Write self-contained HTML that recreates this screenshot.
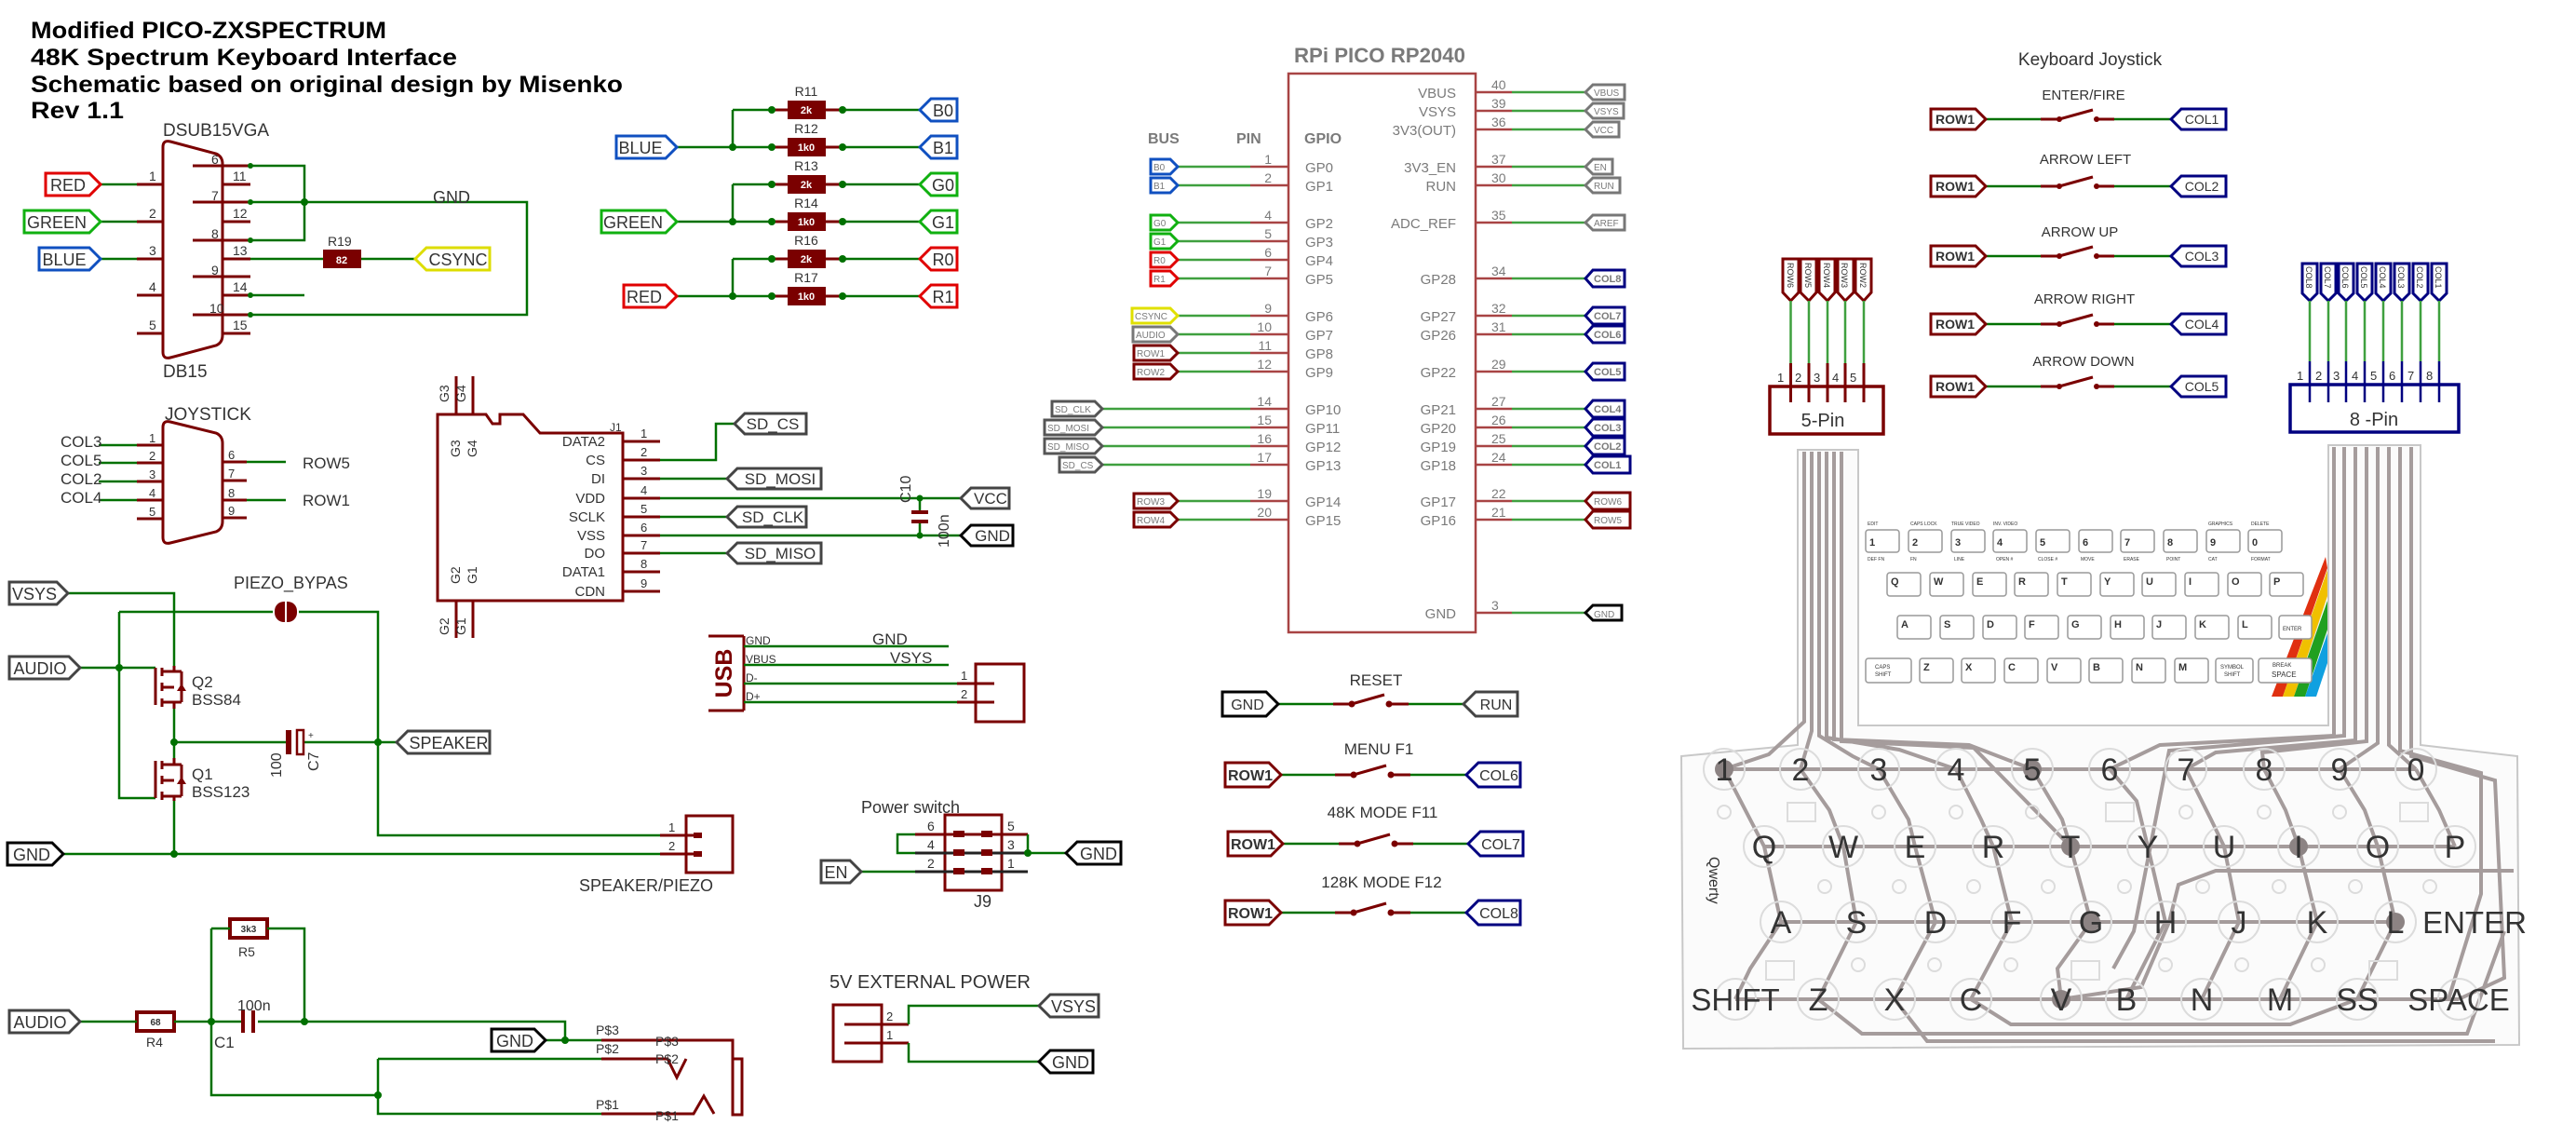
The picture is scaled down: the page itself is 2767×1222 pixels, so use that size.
<!DOCTYPE html>
<html><head><meta charset="utf-8"><style>
html,body{margin:0;padding:0;background:#fff}
svg{display:block}
.g{stroke:#007000;stroke-width:2.5;fill:none}
.pg{stroke:#3fa03f;stroke-width:2.5;fill:none}
.p{stroke:#7a0000;stroke-width:3;fill:none}
.pp{stroke:#a84444;stroke-width:2.5;fill:none}
.t{font-family:"Liberation Sans Narrow","Liberation Sans",sans-serif;fill:#333}
.s{font-family:"Liberation Sans",sans-serif;fill:#333}
.gy{font-family:"Liberation Sans",sans-serif;fill:#7a7a7a}
.j{fill:#007000}
.tr{stroke:#a59c9c;stroke-width:4;fill:none}
.k{fill:#fff;stroke:#999;stroke-width:1.5}
</style></head><body>
<svg width="2767" height="1222" viewBox="0 0 2767 1222" xmlns="http://www.w3.org/2000/svg">
<!-- TITLE -->
<g font-family="Liberation Sans Narrow,Liberation Sans,sans-serif" font-weight="bold" font-size="25" fill="#000">
<text x="33" y="41" textLength="382" lengthAdjust="spacingAndGlyphs">Modified PICO-ZXSPECTRUM</text>
<text x="33" y="70" textLength="458" lengthAdjust="spacingAndGlyphs">48K Spectrum Keyboard Interface</text>
<text x="33" y="99" textLength="636" lengthAdjust="spacingAndGlyphs">Schematic based on original design by Misenko</text>
<text x="33" y="127" textLength="100" lengthAdjust="spacingAndGlyphs">Rev 1.1</text>
</g>

<!-- VGA -->
<text class="t" x="175" y="146" font-size="19">DSUB15VGA</text>
<text class="t" x="175" y="405" font-size="19">DB15</text>
<path class="p" d="M183,152 L232,165 Q239,168 239,176 L239,360 Q239,368 232,371 L183,384 Q175,386 175,378 L175,158 Q175,150 183,152 Z"/>
<path class="p" d="M147,198H175M147,238H175M147,278H175M147,317H175M147,358H175M239,198H269M239,238H269M239,278H269M239,317H269M239,358H269M207,178H269M207,217H269M207,258H269M207,297H269M207,338H269"/>
<g class="t" font-size="14"><text x="160" y="194">1</text><text x="160" y="234">2</text><text x="160" y="274">3</text><text x="160" y="313">4</text><text x="160" y="354">5</text>
<text x="227" y="176">6</text><text x="227" y="215">7</text><text x="227" y="256">8</text><text x="227" y="295">9</text><text x="225" y="336">10</text>
<text x="250" y="194">11</text><text x="250" y="234">12</text><text x="250" y="274">13</text><text x="250" y="313">14</text><text x="250" y="354">15</text></g>
<path class="g" d="M269,178H327V258H269M269,217H566V338H269M269,317H327M269,278H347M388,278H446M108,198H147M108,238H147M108,278H147"/>
<circle class="j" cx="327" cy="217" r="4"/><circle class="j" cx="269" cy="178" r="3"/><circle class="j" cx="269" cy="217" r="3"/><circle class="j" cx="269" cy="258" r="3"/><circle class="j" cx="269" cy="317" r="3"/><circle class="j" cx="269" cy="338" r="3"/>
<text class="t" x="485" y="218" font-size="18" text-anchor="middle">GND</text>
<rect x="347" y="268" width="41" height="20" fill="#7a0000"/><text x="367" y="283" font-size="11" fill="#fff" text-anchor="middle" font-family="Liberation Sans" font-weight="bold">82</text>
<text class="t" x="352" y="264" font-size="14">R19</text>
<polygon points="446,278 458,266 526,266 526,290 458,290" fill="#fff" stroke="#dddd00" stroke-width="3"/><text class="t" x="492" y="285" font-size="18" text-anchor="middle">CSYNC</text>
<polygon points="49,186 96,186 108,198 96,210 49,210" fill="#fff" stroke="#e00000" stroke-width="3"/><text class="t" x="73" y="205" font-size="18" text-anchor="middle">RED</text>
<polygon points="26,226 96,226 108,238 96,250 26,250" fill="#fff" stroke="#10b010" stroke-width="3"/><text class="t" x="61" y="245" font-size="18" text-anchor="middle">GREEN</text>
<polygon points="42,266 96,266 108,278 96,290 42,290" fill="#fff" stroke="#1050c0" stroke-width="3"/><text class="t" x="69" y="285" font-size="18" text-anchor="middle">BLUE</text>

<!-- RESISTOR BANK -->
<path class="g" d="M787,118V158M787,198V238M787,278V318M727,158H829M727,238H829M727,318H829M787,118H829M787,198H829M787,278H829M905,118H988M905,158H988M905,198H988M905,238H988M905,278H988M905,318H988"/>
<path class="p" d="M829,118H905M829,158H905M829,198H905M829,238H905M829,278H905M829,318H905"/>
<g fill="#7a0000"><rect x="846" y="108" width="41" height="20"/><rect x="846" y="148" width="41" height="20"/><rect x="846" y="188" width="41" height="20"/><rect x="846" y="228" width="41" height="20"/><rect x="846" y="268" width="41" height="20"/><rect x="846" y="308" width="41" height="20"/></g>
<g font-size="11" fill="#fff" text-anchor="middle" font-family="Liberation Sans" font-weight="bold"><text x="866" y="122">2k</text><text x="866" y="162">1k0</text><text x="866" y="202">2k</text><text x="866" y="242">1k0</text><text x="866" y="282">2k</text><text x="866" y="322">1k0</text></g>
<g class="t" font-size="14" text-anchor="middle"><text x="866" y="103">R11</text><text x="866" y="143">R12</text><text x="866" y="183">R13</text><text x="866" y="223">R14</text><text x="866" y="263">R16</text><text x="866" y="303">R17</text></g>
<g class="j"><circle cx="787" cy="158" r="4"/><circle cx="787" cy="238" r="4"/><circle cx="787" cy="318" r="4"/><circle cx="829" cy="118" r="4"/><circle cx="829" cy="158" r="4"/><circle cx="829" cy="198" r="4"/><circle cx="829" cy="238" r="4"/><circle cx="829" cy="278" r="4"/><circle cx="829" cy="318" r="4"/><circle cx="905" cy="118" r="4"/><circle cx="905" cy="158" r="4"/><circle cx="905" cy="198" r="4"/><circle cx="905" cy="238" r="4"/><circle cx="905" cy="278" r="4"/><circle cx="905" cy="318" r="4"/></g>
<polygon points="662,146 715,146 727,158 715,170 662,170" fill="#fff" stroke="#1050c0" stroke-width="3"/><text class="t" x="688" y="165" font-size="18" text-anchor="middle">BLUE</text>
<polygon points="646,226 715,226 727,238 715,250 646,250" fill="#fff" stroke="#10b010" stroke-width="3"/><text class="t" x="680" y="245" font-size="18" text-anchor="middle">GREEN</text>
<polygon points="670,306 715,306 727,318 715,330 670,330" fill="#fff" stroke="#e00000" stroke-width="3"/><text class="t" x="692" y="325" font-size="18" text-anchor="middle">RED</text>
<g stroke-width="3" fill="#fff">
<polygon points="988,118 1000,106 1028,106 1028,130 1000,130" stroke="#1050c0"/><polygon points="988,158 1000,146 1028,146 1028,170 1000,170" stroke="#1050c0"/>
<polygon points="988,198 1000,186 1028,186 1028,210 1000,210" stroke="#10b010"/><polygon points="988,238 1000,226 1028,226 1028,250 1000,250" stroke="#10b010"/>
<polygon points="988,278 1000,266 1028,266 1028,290 1000,290" stroke="#e00000"/><polygon points="988,318 1000,306 1028,306 1028,330 1000,330" stroke="#e00000"/></g>
<g class="t" font-size="18" text-anchor="middle"><text x="1013" y="125">B0</text><text x="1013" y="165">B1</text><text x="1013" y="205">G0</text><text x="1013" y="245">G1</text><text x="1013" y="285">R0</text><text x="1013" y="325">R1</text></g>

<!-- JOYSTICK -->
<text class="t" x="177" y="451" font-size="19">JOYSTICK</text>
<path class="p" d="M183,453 L232,465 Q239,468 239,476 L239,560 Q239,568 232,571 L183,583 Q175,585 175,577 L175,459 Q175,451 183,453 Z"/>
<path class="p" d="M147,478H175M147,497H175M147,517H175M147,537H175M147,557H175M239,496H265M239,516H265M239,537H265M239,556H265"/>
<path class="g" d="M106,478H147M106,497H147M106,517H147M106,537H147M265,496H307M265,537H307"/>
<g class="t" font-size="17"><text x="65" y="480">COL3</text><text x="65" y="500">COL5</text><text x="65" y="520">COL2</text><text x="65" y="540">COL4</text><text x="325" y="503">ROW5</text><text x="325" y="543">ROW1</text></g>
<g class="t" font-size="13"><text x="160" y="475">1</text><text x="160" y="494">2</text><text x="160" y="514">3</text><text x="160" y="534">4</text><text x="160" y="554">5</text><text x="245" y="493">6</text><text x="245" y="513">7</text><text x="245" y="534">8</text><text x="245" y="553">9</text></g>

<!-- SD CARD -->
<path class="p" d="M470,645V445H522L529,455H537V445H562L580,465H669V645Z"/>
<path class="p" d="M490,445V404M508,445V404M490,645V685M508,645V685M669,474H709M669,494H709M669,514H709M669,535H709M669,555H709M669,575H709M669,594H709M669,614H709M669,635H709"/>
<g class="t" font-size="14"><text transform="translate(482,432) rotate(-90)">G3</text><text transform="translate(500,432) rotate(-90)">G4</text><text transform="translate(494,491) rotate(-90)">G3</text><text transform="translate(512,491) rotate(-90)">G4</text>
<text transform="translate(482,682) rotate(-90)">G2</text><text transform="translate(500,682) rotate(-90)">G1</text><text transform="translate(494,627) rotate(-90)">G2</text><text transform="translate(512,627) rotate(-90)">G1</text><text x="655" y="463" font-size="12">J1</text></g>
<g class="t" font-size="15" text-anchor="end"><text x="650" y="479">DATA2</text><text x="650" y="499">CS</text><text x="650" y="519">DI</text><text x="650" y="540">VDD</text><text x="650" y="560">SCLK</text><text x="650" y="580">VSS</text><text x="650" y="599">DO</text><text x="650" y="619">DATA1</text><text x="650" y="640">CDN</text></g>
<g class="t" font-size="13"><text x="688" y="470">1</text><text x="688" y="490">2</text><text x="688" y="510">3</text><text x="688" y="531">4</text><text x="688" y="551">5</text><text x="688" y="571">6</text><text x="688" y="590">7</text><text x="688" y="610">8</text><text x="688" y="631">9</text></g>
<path class="g" d="M709,494H769V455H789M709,514H781M709,535H1032M709,555H781M709,575H1032M709,594H781M988,535V550M988,561V575"/>
<rect x="979" y="548" width="18" height="4" fill="#7a0000"/><rect x="979" y="558" width="18" height="4" fill="#7a0000"/>
<circle class="j" cx="988" cy="535" r="3.5"/><circle class="j" cx="988" cy="575" r="3.5"/>
<text class="t" transform="translate(978,540) rotate(-90)" font-size="16">C10</text><text class="t" transform="translate(1019,588) rotate(-90)" font-size="16">100n</text>
<g fill="#fff" stroke="#444" stroke-width="3">
<polygon points="789,455 800,444 866,444 866,466 800,466"/><polygon points="781,514 792,503 882,503 882,525 792,525"/><polygon points="781,555 792,544 866,544 866,566 792,566"/><polygon points="781,594 792,583 882,583 882,605 792,605"/><polygon points="1032,535 1043,524 1084,524 1084,546 1043,546"/><polygon points="1032,575 1043,564 1088,564 1088,586 1043,586" stroke="#000"/></g>
<g class="t" font-size="17" text-anchor="middle"><text x="830" y="461">SD_CS</text><text x="838" y="520">SD_MOSI</text><text x="830" y="561">SD_CLK</text><text x="838" y="600">SD_MISO</text><text x="1064" y="541">VCC</text><text x="1066" y="581">GND</text></g>

<!-- PIEZO / AUDIO AMP -->
<text class="t" x="251" y="632" font-size="18">PIEZO_BYPAS</text>
<path class="g" d="M73,637H187V715M128,657H293M321,657H406V897H709M128,657V857H167M86,717H167M187,761V814M187,860V917M187,797H307M327,797H426M68,917H709"/>
<rect x="295" y="646" width="24" height="22" rx="10" fill="#7a0000"/><line x1="307" y1="646" x2="307" y2="668" stroke="#fff" stroke-width="2"/>
<g class="p" stroke-width="2.5"><path d="M167,717V757M174,717V726M174,733V742M174,750V759M174,721H187V715M174,754H187V761M174,738H187M195,721V754M187,721H195M187,754H195"/><path d="M167,857V817M174,817V826M174,833V842M174,850V859M174,821H187V814M174,855H187V860M174,838H187M195,821V855M187,821H195M187,855H195"/></g>
<polygon points="190,742 200,742 195,734" fill="#7a0000"/><polygon points="190,842 200,842 195,834" fill="#7a0000"/>
<g class="t" font-size="17"><text x="206" y="738">Q2</text><text x="206" y="757">BSS84</text><text x="206" y="837">Q1</text><text x="206" y="856">BSS123</text></g>
<rect x="307" y="784" width="6" height="26" fill="#7a0000"/><rect x="319" y="784" width="7" height="26" fill="none" stroke="#7a0000" stroke-width="2.5"/>
<text class="t" x="331" y="793" font-size="10">+</text>
<text class="t" transform="translate(302,835) rotate(-90)" font-size="16">100</text><text class="t" transform="translate(342,828) rotate(-90)" font-size="16">C7</text>
<g class="j"><circle cx="128" cy="717" r="4"/><circle cx="187" cy="797" r="4"/><circle cx="406" cy="797" r="4"/><circle cx="187" cy="917" r="4"/></g>
<polygon points="10,625 61,625 73,637 61,649 10,649" fill="#fff" stroke="#444" stroke-width="3"/><text class="t" x="37" y="644" font-size="18" text-anchor="middle">VSYS</text>
<polygon points="10,705 74,705 86,717 74,729 10,729" fill="#fff" stroke="#444" stroke-width="3"/><text class="t" x="43" y="724" font-size="18" text-anchor="middle">AUDIO</text>
<polygon points="426,797 438,785 526,785 526,809 438,809" fill="#fff" stroke="#444" stroke-width="3"/><text class="t" x="482" y="804" font-size="18" text-anchor="middle">SPEAKER</text>
<polygon points="8,905 56,905 68,917 56,929 8,929" fill="#fff" stroke="#000" stroke-width="3"/><text class="t" x="34" y="924" font-size="18" text-anchor="middle">GND</text>
<path class="p" d="M709,897H752M709,917H752"/><rect x="737" y="876" width="50" height="61" class="p"/>
<rect x="745" y="894" width="9" height="6" fill="#7a0000"/><rect x="745" y="914" width="9" height="6" fill="#7a0000"/>
<g class="t" font-size="13"><text x="718" y="893">1</text><text x="718" y="913">2</text></g>
<text class="t" x="622" y="957" font-size="18">SPEAKER/PIEZO</text>

<!-- USB -->
<path class="p" stroke-width="4" d="M799,683V763M761,683H799M761,763H799"/>
<text transform="translate(786,723) rotate(-90)" font-family="Liberation Sans" font-weight="bold" font-size="25" fill="#7a0000" text-anchor="middle">USB</text>
<g class="t" font-size="12"><text x="801" y="692">GND</text><text x="801" y="712">VBUS</text><text x="801" y="732">D-</text><text x="801" y="752">D+</text></g>
<path class="g" d="M799,694H1019M799,714H1019M799,734H1028M799,754H1028"/>
<path class="p" d="M1028,734H1068M1028,754H1068"/><rect x="1048" y="713" width="52" height="62" class="p"/>
<g class="t" font-size="17"><text x="937" y="692">GND</text><text x="956" y="712">VSYS</text></g>
<g class="t" font-size="13"><text x="1032" y="730">1</text><text x="1032" y="750">2</text></g>

<!-- POWER SWITCH -->
<text class="t" x="925" y="873" font-size="18">Power switch</text>
<rect x="1015" y="875" width="61" height="81" class="p"/>
<path class="p" d="M983,896H1104"/><path stroke="#222" stroke-width="3" d="M983,916H1104M983,936H1104"/>
<g fill="#7a0000"><rect x="1024" y="892" width="12" height="7"/><rect x="1054" y="892" width="12" height="7"/><rect x="1024" y="912" width="12" height="7"/><rect x="1054" y="912" width="12" height="7"/><rect x="1024" y="932" width="12" height="7"/><rect x="1054" y="932" width="12" height="7"/></g>
<path class="g" d="M983,896H964V916H983M1104,896V916H1145M925,936H983"/><circle class="j" cx="1104" cy="916" r="4"/>
<g class="t" font-size="14"><text x="996" y="892">6</text><text x="996" y="912">4</text><text x="996" y="932">2</text><text x="1082" y="892">5</text><text x="1082" y="912">3</text><text x="1082" y="932">1</text></g>
<text class="t" x="1046" y="974" font-size="18">J9</text>
<polygon points="1145,916 1157,904 1204,904 1204,928 1157,928" fill="#fff" stroke="#000" stroke-width="3"/><text class="t" x="1180" y="923" font-size="18" text-anchor="middle">GND</text>
<polygon points="882,924 913,924 925,936 913,948 882,948" fill="#fff" stroke="#444" stroke-width="3"/><text class="t" x="898" y="943" font-size="18" text-anchor="middle">EN</text>

<!-- AUDIO FILTER -->
<rect x="247" y="987" width="40" height="20" fill="#fff" stroke="#7a0000" stroke-width="4"/><text x="267" y="1001" font-size="10" text-anchor="middle" font-family="Liberation Sans" font-weight="bold" fill="#333">3k3</text>
<text class="t" x="265" y="1027" font-size="14" text-anchor="middle">R5</text>
<rect x="147" y="1087" width="40" height="20" fill="#fff" stroke="#7a0000" stroke-width="4"/><text x="167" y="1101" font-size="10" text-anchor="middle" font-family="Liberation Sans" font-weight="bold" fill="#333">68</text>
<text class="t" x="166" y="1124" font-size="14" text-anchor="middle">R4</text>
<path class="g" d="M227,997H247M287,997H327V1097M227,997V1176H406M86,1097H147M187,1097H259M277,1097H607V1117M586,1117H646M406,1137H646M406,1137V1196H646"/>
<rect x="259" y="1085" width="4" height="24" fill="#7a0000"/><rect x="270" y="1085" width="4" height="24" fill="#7a0000"/>
<text class="t" x="255" y="1085" font-size="16">100n</text><text class="t" x="230" y="1125" font-size="17">C1</text>
<g class="j"><circle cx="227" cy="1097" r="4"/><circle cx="327" cy="1097" r="4"/><circle cx="607" cy="1117" r="4"/><circle cx="406" cy="1176" r="4"/></g>
<path class="p" d="M646,1117H787V1197M646,1137H717L727,1157L737,1137M646,1196H745L756,1177L767,1196"/>
<rect x="787" y="1137" width="10" height="60" fill="none" stroke="#7a0000" stroke-width="3"/>
<g class="t" font-size="14"><text x="640" y="1111">P$3</text><text x="704" y="1123">P$3</text><text x="640" y="1131">P$2</text><text x="704" y="1142">P$2</text><text x="640" y="1191">P$1</text><text x="704" y="1203">P$1</text></g>
<polygon points="10,1085 74,1085 86,1097 74,1109 10,1109" fill="#fff" stroke="#444" stroke-width="3"/><text class="t" x="43" y="1104" font-size="18" text-anchor="middle">AUDIO</text>
<polygon points="528,1105 574,1105 586,1117 574,1129 528,1129" fill="#fff" stroke="#000" stroke-width="3"/><text class="t" x="553" y="1124" font-size="18" text-anchor="middle">GND</text>

<!-- 5V EXT -->
<text class="t" x="891" y="1061" font-size="20">5V EXTERNAL POWER</text>
<rect x="895" y="1079" width="52" height="61" class="p"/>
<path class="p" d="M907,1100H976M907,1120H976"/>
<g class="t" font-size="13"><text x="952" y="1096">2</text><text x="952" y="1116">1</text></g>
<path class="g" d="M976,1100V1080H1116M976,1120V1140H1116"/>
<polygon points="1116,1080 1128,1068 1180,1068 1180,1092 1128,1092" fill="#fff" stroke="#444" stroke-width="3"/><text class="t" x="1153" y="1087" font-size="18" text-anchor="middle">VSYS</text>
<polygon points="1116,1140 1128,1128 1174,1128 1174,1152 1128,1152" fill="#fff" stroke="#000" stroke-width="3"/><text class="t" x="1150" y="1147" font-size="18" text-anchor="middle">GND</text>

<!-- PICO -->
<text class="gy" x="1390" y="67" font-size="22" font-weight="bold" textLength="184" lengthAdjust="spacingAndGlyphs">RPi PICO RP2040</text>
<rect x="1384" y="79" width="201" height="600" class="pp" stroke-width="3"/>
<g class="gy" font-size="16" font-weight="bold"><text x="1233" y="154">BUS</text><text x="1328" y="154">PIN</text><text x="1401" y="154">GPIO</text></g>
<path class="pg" d="M1265,179H1343M1265,199H1343M1265,239H1343M1265,259H1343M1265,279H1343M1265,299H1343M1265,339H1343M1265,359H1343M1265,379H1343M1265,399H1343M1184,439H1343M1184,459H1343M1184,479H1343M1184,499H1343M1265,538H1343M1265,558H1343"/>
<path class="pp" d="M1343,179H1384M1343,199H1384M1343,239H1384M1343,259H1384M1343,279H1384M1343,299H1384M1343,339H1384M1343,359H1384M1343,379H1384M1343,399H1384M1343,439H1384M1343,459H1384M1343,479H1384M1343,499H1384M1343,538H1384M1343,558H1384"/>
<path class="pp" d="M1585,99H1624M1585,119H1624M1585,139H1624M1585,179H1624M1585,199H1624M1585,239H1624M1585,299H1624M1585,339H1624M1585,359H1624M1585,399H1624M1585,439H1624M1585,459H1624M1585,479H1624M1585,499H1624M1585,538H1624M1585,558H1624M1585,658H1624"/>
<path class="pg" d="M1624,99H1703M1624,119H1703M1624,139H1703M1624,179H1703M1624,199H1703M1624,239H1703M1624,299H1703M1624,339H1703M1624,359H1703M1624,399H1703M1624,439H1703M1624,459H1703M1624,479H1703M1624,499H1703M1624,538H1703M1624,558H1703M1624,658H1703"/>
<g class="gy" font-size="15"><text x="1402" y="185">GP0</text><text x="1402" y="205">GP1</text><text x="1402" y="245">GP2</text><text x="1402" y="265">GP3</text><text x="1402" y="285">GP4</text><text x="1402" y="305">GP5</text><text x="1402" y="345">GP6</text><text x="1402" y="365">GP7</text><text x="1402" y="385">GP8</text><text x="1402" y="405">GP9</text><text x="1402" y="445">GP10</text><text x="1402" y="465">GP11</text><text x="1402" y="485">GP12</text><text x="1402" y="505">GP13</text><text x="1402" y="544">GP14</text><text x="1402" y="564">GP15</text></g>
<g class="gy" font-size="15" text-anchor="end"><text x="1564" y="105">VBUS</text><text x="1564" y="125">VSYS</text><text x="1564" y="145">3V3(OUT)</text><text x="1564" y="185">3V3_EN</text><text x="1564" y="205">RUN</text><text x="1564" y="245">ADC_REF</text><text x="1564" y="305">GP28</text><text x="1564" y="345">GP27</text><text x="1564" y="365">GP26</text><text x="1564" y="405">GP22</text><text x="1564" y="445">GP21</text><text x="1564" y="465">GP20</text><text x="1564" y="485">GP19</text><text x="1564" y="505">GP18</text><text x="1564" y="544">GP17</text><text x="1564" y="564">GP16</text><text x="1564" y="664">GND</text></g>
<g class="gy" font-size="14" text-anchor="end"><text x="1366" y="176">1</text><text x="1366" y="196">2</text><text x="1366" y="236">4</text><text x="1366" y="256">5</text><text x="1366" y="276">6</text><text x="1366" y="296">7</text><text x="1366" y="336">9</text><text x="1366" y="356">10</text><text x="1366" y="376">11</text><text x="1366" y="396">12</text><text x="1366" y="436">14</text><text x="1366" y="456">15</text><text x="1366" y="476">16</text><text x="1366" y="496">17</text><text x="1366" y="535">19</text><text x="1366" y="555">20</text></g>
<g class="gy" font-size="14"><text x="1602" y="96">40</text><text x="1602" y="116">39</text><text x="1602" y="136">36</text><text x="1602" y="176">37</text><text x="1602" y="196">30</text><text x="1602" y="236">35</text><text x="1602" y="296">34</text><text x="1602" y="336">32</text><text x="1602" y="356">31</text><text x="1602" y="396">29</text><text x="1602" y="436">27</text><text x="1602" y="456">26</text><text x="1602" y="476">25</text><text x="1602" y="496">24</text><text x="1602" y="535">22</text><text x="1602" y="555">21</text><text x="1602" y="655">3</text></g>
<!-- pico left labels -->
<g fill="#fff" stroke-width="3">
<polygon points="1236,171 1257,171 1265,179 1257,187 1236,187" stroke="#1050c0"/><polygon points="1236,191 1257,191 1265,199 1257,207 1236,207" stroke="#1050c0"/>
<polygon points="1236,231 1257,231 1265,239 1257,247 1236,247" stroke="#10b010"/><polygon points="1236,251 1257,251 1265,259 1257,267 1236,267" stroke="#10b010"/>
<polygon points="1236,271 1257,271 1265,279 1257,287 1236,287" stroke="#e00000"/><polygon points="1236,291 1257,291 1265,299 1257,307 1236,307" stroke="#e00000"/>
<polygon points="1216,331 1257,331 1265,339 1257,347 1216,347" stroke="#e0e000"/><polygon points="1217,351 1257,351 1265,359 1257,367 1217,367" stroke="#777"/>
<polygon points="1218,371 1257,371 1265,379 1257,387 1218,387" stroke="#7a0000"/><polygon points="1218,391 1257,391 1265,399 1257,407 1218,407" stroke="#7a0000"/>
<polygon points="1130,431 1176,431 1184,439 1176,447 1130,447" stroke="#555"/><polygon points="1122,451 1176,451 1184,459 1176,467 1122,467" stroke="#555"/>
<polygon points="1122,471 1176,471 1184,479 1176,487 1122,487" stroke="#555"/><polygon points="1138,491 1176,491 1184,499 1176,507 1138,507" stroke="#555"/>
<polygon points="1218,530 1257,530 1265,538 1257,546 1218,546" stroke="#7a0000"/><polygon points="1218,550 1257,550 1265,558 1257,566 1218,566" stroke="#7a0000"/>
</g>
<g class="gy" font-size="10"><text x="1239" y="183">B0</text><text x="1239" y="203">B1</text><text x="1239" y="243">G0</text><text x="1239" y="263">G1</text><text x="1239" y="283">R0</text><text x="1239" y="303">R1</text><text x="1219" y="343">CSYNC</text><text x="1220" y="363">AUDIO</text><text x="1221" y="383">ROW1</text><text x="1221" y="403">ROW2</text><text x="1133" y="443">SD_CLK</text><text x="1125" y="463">SD_MOSI</text><text x="1125" y="483">SD_MISO</text><text x="1141" y="503">SD_CS</text><text x="1221" y="542">ROW3</text><text x="1221" y="562">ROW4</text></g>
<!-- pico right labels -->
<g fill="#fff" stroke-width="3">
<polygon points="1703,99 1711,91 1745,91 1745,107 1711,107" stroke="#777"/><polygon points="1703,119 1711,111 1744,111 1744,127 1711,127" stroke="#777"/><polygon points="1703,139 1711,131 1739,131 1739,147 1711,147" stroke="#777"/>
<polygon points="1703,179 1711,171 1732,171 1732,187 1711,187" stroke="#777"/><polygon points="1703,199 1711,191 1740,191 1740,207 1711,207" stroke="#777"/><polygon points="1703,239 1711,231 1745,231 1745,247 1711,247" stroke="#777"/>
<polygon points="1703,299 1711,290 1745,290 1745,308 1711,308" stroke="#000080"/><polygon points="1703,339 1711,330 1745,330 1745,348 1711,348" stroke="#000080"/><polygon points="1703,359 1711,350 1745,350 1745,368 1711,368" stroke="#000080"/>
<polygon points="1703,399 1711,390 1745,390 1745,408 1711,408" stroke="#000080"/><polygon points="1703,439 1711,430 1745,430 1745,448 1711,448" stroke="#000080"/><polygon points="1703,459 1711,450 1745,450 1745,468 1711,468" stroke="#000080"/>
<polygon points="1703,479 1711,470 1745,470 1745,488 1711,488" stroke="#000080"/><polygon points="1703,499 1711,490 1751,490 1751,508 1711,508" stroke="#000080"/>
<polygon points="1703,538 1711,529 1751,529 1751,547 1711,547" stroke="#7a0000"/><polygon points="1703,558 1711,549 1751,549 1751,567 1711,567" stroke="#7a0000"/>
<polygon points="1703,658 1711,650 1742,650 1742,666 1711,666" stroke="#000"/></g>
<g class="gy" font-size="10"><text x="1712" y="103">VBUS</text><text x="1712" y="123">VSYS</text><text x="1712" y="143">VCC</text><text x="1712" y="183">EN</text><text x="1712" y="203">RUN</text><text x="1712" y="243">AREF</text><text x="1712" y="663">GND</text><text x="1712" y="542">ROW6</text><text x="1712" y="562">ROW5</text></g>
<g class="gy" font-size="11" font-weight="bold"><text x="1712" y="303">COL8</text><text x="1712" y="343">COL7</text><text x="1712" y="363">COL6</text><text x="1712" y="403">COL5</text><text x="1712" y="443">COL4</text><text x="1712" y="463">COL3</text><text x="1712" y="483">COL2</text><text x="1712" y="503">COL1</text></g>

<!-- RESET / F-KEY SWITCHES -->
<g class="s" font-size="17" text-anchor="middle"><text x="1478" y="736">RESET</text><text x="1481" y="810">MENU F1</text><text x="1485" y="878">48K MODE F11</text><text x="1484" y="953">128K MODE F12</text></g>
<path class="g" d="M1373,756H1432M1513,756H1572M1376,832H1434M1515,832H1575M1378,906H1438M1518,906H1577M1376,980H1434M1515,980H1575"/>
<path class="p" d="M1432,756H1452L1487,746M1492,756H1513M1434,832H1454L1489,822M1494,832H1515M1438,906H1458L1493,896M1498,906H1518M1434,980H1454L1489,970M1494,980H1515"/>
<g fill="#7a0000"><circle cx="1452" cy="756" r="3.5"/><circle cx="1492" cy="756" r="3.5"/><circle cx="1454" cy="832" r="3.5"/><circle cx="1494" cy="832" r="3.5"/><circle cx="1458" cy="906" r="3.5"/><circle cx="1498" cy="906" r="3.5"/><circle cx="1454" cy="980" r="3.5"/><circle cx="1494" cy="980" r="3.5"/></g>
<g fill="#fff" stroke-width="3">
<polygon points="1313,743 1360,743 1373,756 1360,769 1313,769" stroke="#000"/><polygon points="1572,756 1585,743 1630,743 1630,769 1585,769" stroke="#444"/>
<polygon points="1316,819 1363,819 1376,832 1363,845 1316,845" stroke="#7a0000"/><polygon points="1575,832 1588,819 1633,819 1633,845 1588,845" stroke="#000080"/>
<polygon points="1319,893 1365,893 1378,906 1365,919 1319,919" stroke="#7a0000"/><polygon points="1577,906 1590,893 1636,893 1636,919 1590,919" stroke="#000080"/>
<polygon points="1316,967 1363,967 1376,980 1363,993 1316,993" stroke="#7a0000"/><polygon points="1575,980 1588,967 1633,967 1633,993 1588,993" stroke="#000080"/></g>
<g class="s" font-size="16" text-anchor="middle"><text x="1340" y="762">GND</text><text x="1607" y="762">RUN</text><text x="1343" y="838" font-weight="bold">ROW1</text><text x="1610" y="838">COL6</text><text x="1346" y="912" font-weight="bold">ROW1</text><text x="1612" y="912">COL7</text><text x="1343" y="986" font-weight="bold">ROW1</text><text x="1610" y="986">COL8</text></g>

<!-- KEYBOARD JOYSTICK -->
<text class="s" x="2245" y="70" font-size="19" text-anchor="middle">Keyboard Joystick</text>
<g class="s" font-size="15" text-anchor="middle"><text x="2238" y="107">ENTER/FIRE</text><text x="2240" y="176">ARROW LEFT</text><text x="2234" y="254">ARROW UP</text><text x="2239" y="326">ARROW RIGHT</text><text x="2238" y="393">ARROW DOWN</text></g>
<path class="g" d="M2133,128H2192M2271,128H2332M2133,200H2192M2271,200H2332M2133,275H2192M2271,275H2332M2133,348H2192M2271,348H2332M2133,415H2192M2271,415H2332"/>
<path class="p" stroke-width="2.5" d="M2192,128H2212L2248,118M2252,128H2271M2192,200H2212L2248,190M2252,200H2271M2192,275H2212L2248,265M2252,275H2271M2192,348H2212L2248,338M2252,348H2271M2192,415H2212L2248,405M2252,415H2271"/>
<g fill="#7a0000"><circle cx="2212" cy="128" r="3"/><circle cx="2252" cy="128" r="3"/><circle cx="2212" cy="200" r="3"/><circle cx="2252" cy="200" r="3"/><circle cx="2212" cy="275" r="3"/><circle cx="2252" cy="275" r="3"/><circle cx="2212" cy="348" r="3"/><circle cx="2252" cy="348" r="3"/><circle cx="2212" cy="415" r="3"/><circle cx="2252" cy="415" r="3"/></g>
<g fill="#fff" stroke-width="3">
<polygon points="2074,117 2122,117 2133,128 2122,139 2074,139" stroke="#7a0000"/><polygon points="2332,128 2343,117 2391,117 2391,139 2343,139" stroke="#000080"/>
<polygon points="2074,189 2122,189 2133,200 2122,211 2074,211" stroke="#7a0000"/><polygon points="2332,200 2343,189 2391,189 2391,211 2343,211" stroke="#000080"/>
<polygon points="2074,264 2122,264 2133,275 2122,286 2074,286" stroke="#7a0000"/><polygon points="2332,275 2343,264 2391,264 2391,286 2343,286" stroke="#000080"/>
<polygon points="2074,337 2122,337 2133,348 2122,359 2074,359" stroke="#7a0000"/><polygon points="2332,348 2343,337 2391,337 2391,359 2343,359" stroke="#000080"/>
<polygon points="2074,404 2122,404 2133,415 2122,426 2074,426" stroke="#7a0000"/><polygon points="2332,415 2343,404 2391,404 2391,426 2343,426" stroke="#000080"/></g>
<g class="s" font-size="14" text-anchor="middle"><text x="2100" y="133" font-weight="bold">ROW1</text><text x="2365" y="133">COL1</text><text x="2100" y="205" font-weight="bold">ROW1</text><text x="2365" y="205">COL2</text><text x="2100" y="280" font-weight="bold">ROW1</text><text x="2365" y="280">COL3</text><text x="2100" y="353" font-weight="bold">ROW1</text><text x="2365" y="353">COL4</text><text x="2100" y="420" font-weight="bold">ROW1</text><text x="2365" y="420">COL5</text></g>

<!-- 5-PIN -->
<g fill="#fff" stroke="#7a0000" stroke-width="3">
<polygon points="1915,278 1932,278 1932,314 1923.5,323 1915,314"/><polygon points="1934,278 1951,278 1951,314 1943,323 1934,314"/><polygon points="1954,278 1971,278 1971,314 1963,323 1954,314"/><polygon points="1974,278 1991,278 1991,314 1982,323 1974,314"/><polygon points="1993,278 2010,278 2010,314 2002,323 1993,314"/></g>
<g class="s" font-size="9"><text transform="translate(1920,282) rotate(90)">ROW6</text><text transform="translate(1939,282) rotate(90)">ROW5</text><text transform="translate(1959,282) rotate(90)">ROW4</text><text transform="translate(1978,282) rotate(90)">ROW3</text><text transform="translate(1998,282) rotate(90)">ROW2</text></g>
<path stroke="#3fa03f" stroke-width="2.5" d="M1923.5,323V390M1943,323V390M1963,323V390M1982,323V390M2002,323V390"/>
<path class="p" stroke-width="2.5" d="M1923.5,390V432M1943,390V432M1963,390V432M1982,390V432M2002,390V432"/>
<rect x="1901" y="415" width="122" height="51" fill="none" stroke="#7a0000" stroke-width="3.5"/>
<g class="s" font-size="13"><text x="1909" y="410">1</text><text x="1928" y="410">2</text><text x="1948" y="410">3</text><text x="1968" y="410">4</text><text x="1987" y="410">5</text></g>
<text class="s" x="1958" y="458" font-size="20" text-anchor="middle">5-Pin</text>
<!-- 8-PIN -->
<g fill="#fff" stroke="#000080" stroke-width="3">
<polygon points="2473,283 2489,283 2489,315 2481,323 2473,315"/><polygon points="2493,283 2509,283 2509,315 2501,323 2493,315"/><polygon points="2512,283 2528,283 2528,315 2520,323 2512,315"/><polygon points="2532,283 2548,283 2548,315 2540,323 2532,315"/><polygon points="2552,283 2568,283 2568,315 2560,323 2552,315"/><polygon points="2572,283 2588,283 2588,315 2580,323 2572,315"/><polygon points="2592,283 2608,283 2608,315 2600,323 2592,315"/><polygon points="2612,283 2628,283 2628,315 2620,323 2612,315"/></g>
<g class="s" font-size="9"><text transform="translate(2477,286) rotate(90)">COL8</text><text transform="translate(2497,286) rotate(90)">COL7</text><text transform="translate(2516,286) rotate(90)">COL6</text><text transform="translate(2536,286) rotate(90)">COL5</text><text transform="translate(2556,286) rotate(90)">COL4</text><text transform="translate(2576,286) rotate(90)">COL3</text><text transform="translate(2596,286) rotate(90)">COL2</text><text transform="translate(2616,286) rotate(90)">COL1</text></g>
<path stroke="#3fa03f" stroke-width="2.5" d="M2481,323V388M2501,323V388M2520,323V388M2540,323V388M2560,323V388M2580,323V388M2600,323V388M2620,323V388"/>
<path stroke="#000080" stroke-width="2.5" d="M2481,388V432M2501,388V432M2520,388V432M2540,388V432M2560,388V432M2580,388V432M2600,388V432M2620,388V432"/>
<rect x="2460" y="413" width="181" height="51" fill="none" stroke="#000080" stroke-width="3.5"/>
<g class="s" font-size="13"><text x="2467" y="408">1</text><text x="2487" y="408">2</text><text x="2506" y="408">3</text><text x="2526" y="408">4</text><text x="2546" y="408">5</text><text x="2566" y="408">6</text><text x="2586" y="408">7</text><text x="2606" y="408">8</text></g>
<text class="s" x="2550" y="457" font-size="20" text-anchor="middle">8 -Pin</text>

<!-- MEMBRANE -->
<polygon points="1806,812 1931,800 1931,483 1996,483 1996,779 2501,779 2501,478 2600,478 2600,800 2704,812 2706,1122 1808,1126" fill="#fbfbfb" stroke="#c8c8c8" stroke-width="2"/>
<rect x="2003" y="549" width="491" height="199" fill="#fff"/>
<g class="tr" stroke-width="3">
<path d="M1938,485V775L1900,810L1852,826M1946,485V785L1934,826M1954,485V790L1990,812L2018,826M1962,485V792L2040,805L2101,826M1970,485V794L2115,800L2183,826M1978,485V796L2120,803L2224,909"/>
<path d="M2507,480V790L2320,800L2266,826M2518,480V790L2330,806L2292,1000L2270,1040M2530,480V795L2380,808L2348,826M2542,480V796L2430,808L2432,826M2554,480V798L2513,826M2566,480V800L2595,826M2578,480V806L2665,830L2665,960L2630,1073M2590,480V812L2680,838L2690,1050L2641,1073"/>
<path d="M1852,826H2595M1895,909H2637M1913,990H2573M1864,1073H2641"/>
<path d="M1852,826L1895,909L1913,990L1880,1040L1864,1073M1934,826L1965,870L1980,909L1994,990L1953,1073M2018,826L2050,880L2057,909L2079,990L2035,1073M2101,826L2128,880L2141,909L2161,990L2117,1073M2183,826L2215,880L2224,909L2246,990L2210,1040L2214,1073M2266,826L2295,860L2307,909L2326,990L2284,1073M2348,826L2375,880L2389,909L2405,990L2365,1073M2432,826L2455,870L2469,909L2489,990L2449,1073M2513,826L2540,870L2554,909L2573,990L2532,1073M2595,826L2620,870L2637,909"/>
<path d="M2214,1073L2300,1060L2330,990L2340,950L2380,935L2700,935M1953,1073L2000,1110L2650,1110L2690,1000M2117,1073L2160,1100L2460,1100L2532,1073M2035,1073L2070,1118L2680,1118"/>
</g>
<g fill="none" stroke="#dcdcdc" stroke-width="2">
<circle cx="1852" cy="826" r="22"/><circle cx="1934" cy="826" r="22"/><circle cx="2018" cy="826" r="22"/><circle cx="2101" cy="826" r="22"/><circle cx="2183" cy="826" r="22"/><circle cx="2266" cy="826" r="22"/><circle cx="2348" cy="826" r="22"/><circle cx="2432" cy="826" r="22"/><circle cx="2513" cy="826" r="22"/><circle cx="2595" cy="826" r="22"/>
<circle cx="1895" cy="909" r="22"/><circle cx="1980" cy="909" r="22"/><circle cx="2057" cy="909" r="22"/><circle cx="2141" cy="909" r="22"/><circle cx="2224" cy="909" r="22"/><circle cx="2307" cy="909" r="22"/><circle cx="2389" cy="909" r="22"/><circle cx="2469" cy="909" r="22"/><circle cx="2554" cy="909" r="22"/><circle cx="2637" cy="909" r="22"/>
<circle cx="1913" cy="990" r="22"/><circle cx="1994" cy="990" r="22"/><circle cx="2079" cy="990" r="22"/><circle cx="2161" cy="990" r="22"/><circle cx="2246" cy="990" r="22"/><circle cx="2326" cy="990" r="22"/><circle cx="2405" cy="990" r="22"/><circle cx="2489" cy="990" r="22"/><circle cx="2573" cy="990" r="22"/>
<circle cx="1864" cy="1073" r="22"/><circle cx="1953" cy="1073" r="22"/><circle cx="2035" cy="1073" r="22"/><circle cx="2117" cy="1073" r="22"/><circle cx="2214" cy="1073" r="22"/><circle cx="2284" cy="1073" r="22"/><circle cx="2365" cy="1073" r="22"/><circle cx="2449" cy="1073" r="22"/><circle cx="2532" cy="1073" r="22"/><circle cx="2641" cy="1073" r="22"/>
<rect x="1920" y="862" width="30" height="20"/><rect x="2262" y="862" width="30" height="20"/><rect x="2578" y="862" width="30" height="20"/><rect x="1897" y="1032" width="30" height="20"/><rect x="2225" y="1032" width="30" height="20"/><rect x="2545" y="1032" width="30" height="20"/>
<circle cx="1852" cy="872" r="7"/><circle cx="2018" cy="872" r="7"/><circle cx="2101" cy="872" r="7"/><circle cx="2183" cy="872" r="7"/><circle cx="2348" cy="872" r="7"/><circle cx="2432" cy="872" r="7"/><circle cx="2513" cy="872" r="7"/>
<circle cx="1960" cy="952" r="7"/><circle cx="2040" cy="952" r="7"/><circle cx="2120" cy="952" r="7"/><circle cx="2200" cy="952" r="7"/><circle cx="2282" cy="952" r="7"/><circle cx="2366" cy="952" r="7"/><circle cx="2448" cy="952" r="7"/><circle cx="2530" cy="952" r="7"/><circle cx="2610" cy="952" r="7"/>
<circle cx="1996" cy="1036" r="7"/><circle cx="2078" cy="1036" r="7"/><circle cx="2160" cy="1036" r="7"/><circle cx="2326" cy="1036" r="7"/><circle cx="2408" cy="1036" r="7"/><circle cx="2490" cy="1036" r="7"/></g>
<g fill="#8c8383"><circle cx="1852" cy="826" r="10"/><circle cx="2183" cy="826" r="10"/><circle cx="2224" cy="909" r="10"/><circle cx="2469" cy="909" r="10"/><circle cx="2246" cy="990" r="10"/><circle cx="2573" cy="990" r="10"/><circle cx="2214" cy="1073" r="10"/></g>
<text transform="translate(1836,920) rotate(90)" class="s" font-size="16" fill="#777">Qwerty</text>
<g class="s" font-size="34" fill="#444" text-anchor="middle">
<text x="1852" y="838">1</text><text x="1934" y="838">2</text><text x="2018" y="838">3</text><text x="2101" y="838">4</text><text x="2183" y="838">5</text><text x="2266" y="838">6</text><text x="2348" y="838">7</text><text x="2432" y="838">8</text><text x="2513" y="838">9</text><text x="2595" y="838">0</text>
<text x="1895" y="921">Q</text><text x="1980" y="921">W</text><text x="2057" y="921">E</text><text x="2141" y="921">R</text><text x="2224" y="921">T</text><text x="2307" y="921">Y</text><text x="2389" y="921">U</text><text x="2469" y="921">I</text><text x="2554" y="921">O</text><text x="2637" y="921">P</text>
<text x="1913" y="1002">A</text><text x="1994" y="1002">S</text><text x="2079" y="1002">D</text><text x="2161" y="1002">F</text><text x="2246" y="1002">G</text><text x="2326" y="1002">H</text><text x="2405" y="1002">J</text><text x="2489" y="1002">K</text><text x="2573" y="1002">L</text><text x="2658" y="1002" font-size="33">ENTER</text>
<text x="1864" y="1085" font-size="33">SHIFT</text><text x="1953" y="1085">Z</text><text x="2035" y="1085">X</text><text x="2117" y="1085">C</text><text x="2214" y="1085">V</text><text x="2284" y="1085">B</text><text x="2365" y="1085">N</text><text x="2449" y="1085">M</text><text x="2532" y="1085">SS</text><text x="2641" y="1085" font-size="33">SPACE</text></g>

<!-- ZX keyboard graphic -->
<g fill="#e8e8e8"><polygon points="2455,748 2467,748 2500,640 2500,620"/></g>
<polygon points="2440,748 2452,748 2500,610 2498,598" fill="#e03010"/>
<polygon points="2452,748 2464,748 2500,640 2500,612" fill="#f0c000"/>
<polygon points="2464,748 2476,748 2500,676 2500,645" fill="#20a020"/>
<polygon points="2476,748 2488,748 2500,712 2500,680" fill="#10a0e0"/>
<g class="k">
<rect x="2004" y="569" width="36" height="24" rx="3"/><rect x="2050" y="569" width="36" height="24" rx="3"/><rect x="2096" y="569" width="36" height="24" rx="3"/><rect x="2141" y="569" width="36" height="24" rx="3"/><rect x="2187" y="569" width="36" height="24" rx="3"/><rect x="2233" y="569" width="36" height="24" rx="3"/><rect x="2278" y="569" width="36" height="24" rx="3"/><rect x="2324" y="569" width="36" height="24" rx="3"/><rect x="2370" y="569" width="36" height="24" rx="3"/><rect x="2415" y="569" width="36" height="24" rx="3"/>
<rect x="2027" y="615" width="36" height="25" rx="3"/><rect x="2073" y="615" width="36" height="25" rx="3"/><rect x="2119" y="615" width="36" height="25" rx="3"/><rect x="2164" y="615" width="36" height="25" rx="3"/><rect x="2210" y="615" width="36" height="25" rx="3"/><rect x="2256" y="615" width="36" height="25" rx="3"/><rect x="2301" y="615" width="36" height="25" rx="3"/><rect x="2347" y="615" width="36" height="25" rx="3"/><rect x="2393" y="615" width="36" height="25" rx="3"/><rect x="2438" y="615" width="36" height="25" rx="3"/>
<rect x="2038" y="661" width="36" height="25" rx="3"/><rect x="2084" y="661" width="36" height="25" rx="3"/><rect x="2130" y="661" width="36" height="25" rx="3"/><rect x="2175" y="661" width="36" height="25" rx="3"/><rect x="2221" y="661" width="36" height="25" rx="3"/><rect x="2267" y="661" width="36" height="25" rx="3"/><rect x="2312" y="661" width="36" height="25" rx="3"/><rect x="2358" y="661" width="36" height="25" rx="3"/><rect x="2404" y="661" width="36" height="25" rx="3"/><rect x="2448" y="661" width="35" height="25" rx="3"/>
<rect x="2004" y="707" width="49" height="26" rx="3"/><rect x="2062" y="707" width="36" height="26" rx="3"/><rect x="2107" y="707" width="36" height="26" rx="3"/><rect x="2153" y="707" width="36" height="26" rx="3"/><rect x="2199" y="707" width="36" height="26" rx="3"/><rect x="2244" y="707" width="36" height="26" rx="3"/><rect x="2290" y="707" width="36" height="26" rx="3"/><rect x="2336" y="707" width="36" height="26" rx="3"/><rect x="2380" y="707" width="40" height="26" rx="3"/><rect x="2426" y="707" width="57" height="26" rx="3"/></g>
<g class="s" font-size="11" font-weight="bold" fill="#222">
<text x="2008" y="586">1</text><text x="2054" y="586">2</text><text x="2100" y="586">3</text><text x="2145" y="586">4</text><text x="2191" y="586">5</text><text x="2237" y="586">6</text><text x="2282" y="586">7</text><text x="2328" y="586">8</text><text x="2374" y="586">9</text><text x="2419" y="586">0</text>
<text x="2031" y="628">Q</text><text x="2077" y="628">W</text><text x="2123" y="628">E</text><text x="2168" y="628">R</text><text x="2214" y="628">T</text><text x="2260" y="628">Y</text><text x="2305" y="628">U</text><text x="2351" y="628">I</text><text x="2397" y="628">O</text><text x="2442" y="628">P</text>
<text x="2042" y="674">A</text><text x="2088" y="674">S</text><text x="2134" y="674">D</text><text x="2179" y="674">F</text><text x="2225" y="674">G</text><text x="2271" y="674">H</text><text x="2316" y="674">J</text><text x="2362" y="674">K</text><text x="2408" y="674">L</text>
<text x="2066" y="720">Z</text><text x="2111" y="720">X</text><text x="2157" y="720">C</text><text x="2203" y="720">V</text><text x="2248" y="720">B</text><text x="2294" y="720">N</text><text x="2340" y="720">M</text></g>
<g class="s" font-size="6" fill="#222"><text x="2452" y="677">ENTER</text><text x="2014" y="718">CAPS</text><text x="2014" y="726">SHIFT</text><text x="2441" y="716">BREAK</text><text x="2440" y="727" font-size="8">SPACE</text></g>
<g class="s" font-size="6" fill="#c01010"><text x="2385" y="718">SYMBOL</text><text x="2389" y="726">SHIFT</text></g>
<g class="s" font-size="5" fill="#d04020"><text x="2006" y="602">DEF FN</text><text x="2052" y="602">FN</text><text x="2099" y="602">LINE</text><text x="2144" y="602">OPEN #</text><text x="2189" y="602">CLOSE #</text><text x="2235" y="602">MOVE</text><text x="2281" y="602">ERASE</text><text x="2327" y="602">POINT</text><text x="2372" y="602">CAT</text><text x="2418" y="602">FORMAT</text></g>
<g class="s" font-size="5" fill="#222"><text x="2006" y="564">EDIT</text><text x="2052" y="564">CAPS LOCK</text><text x="2096" y="564">TRUE VIDEO</text><text x="2141" y="564">INV. VIDEO</text><text x="2372" y="564">GRAPHICS</text><text x="2418" y="564">DELETE</text></g>
</svg>
</body></html>
